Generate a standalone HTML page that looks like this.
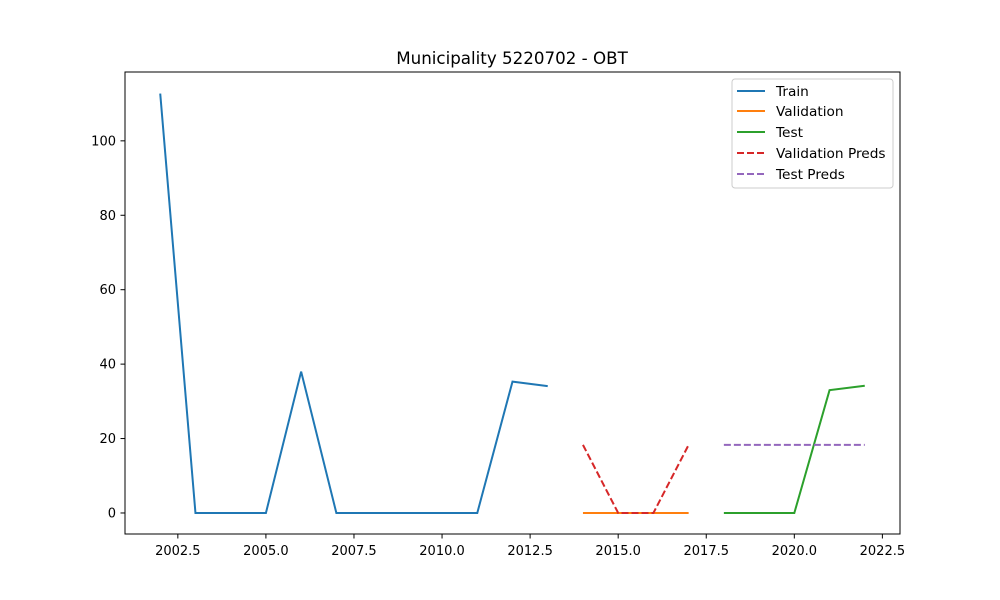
<!DOCTYPE html>
<html><head><meta charset="utf-8">
<style>body{margin:0;background:#fff}svg{display:block;font-family:"DejaVu Sans","Liberation Sans",sans-serif}</style>
</head><body>
<svg id="chart" width="1000" height="600" xmlns="http://www.w3.org/2000/svg">
<rect width="1000" height="600" fill="#fff"/>
<text x="512" y="64" text-anchor="middle" font-size="16.7">Municipality 5220702 - OBT</text>
<g id="marks"></g>
<rect x="125" y="72" width="775" height="462" fill="none" stroke="#000" stroke-width="1"/>
<g id="ticks"></g>
<g>
<rect x="732" y="79" width="161" height="109" fill="#fff" stroke="#ccc" rx="3"/>
<line x1="737" y1="91" x2="765" y2="91" stroke="#1f77b4" stroke-width="2"/><text x="776" y="96" font-size="13.7">Train</text>
<line x1="737" y1="111" x2="765" y2="111" stroke="#ff7f0e" stroke-width="2"/><text x="776" y="116" font-size="13.7">Validation</text>
<line x1="737" y1="132" x2="765" y2="132" stroke="#2ca02c" stroke-width="2"/><text x="776" y="137" font-size="13.7">Test</text>
<line x1="737" y1="153" x2="765" y2="153" stroke="#d62728" stroke-width="2" stroke-dasharray="7,3"/><text x="776" y="158" font-size="13.7">Validation Preds</text>
<line x1="737" y1="174" x2="765" y2="174" stroke="#9467bd" stroke-width="2" stroke-dasharray="7,3"/><text x="776" y="179" font-size="13.7">Test Preds</text>
</g>
</svg>
<script>
const trainYears=[2002,2003,2004,2005,2006,2007,2008,2009,2010,2011,2012,2013];
const trainVals=[112.7,0,0,0,38,0,0,0,0,0,35.3,34.1];
const valYears=[2014,2015,2016,2017];
const valVals=[0,0,0,0];
const valPreds=[18.3,0,0,18.3];
const testYears=[2018,2019,2020,2021,2022];
const testVals=[0,0,0,33,34.2];
const testPreds=[18.3,18.3,18.3,18.3,18.3];
const xTicks=[2002.5,2005.0,2007.5,2010.0,2012.5,2015.0,2017.5,2020.0,2022.5];
const yTicks=[0,20,40,60,80,100];
const X0=125,X1=900,Y0=534,Y1=72,xmin=2001,xmax=2023,ymin=-5.65,ymax=118.5;
const sx=v=>X0+(v-xmin)/(xmax-xmin)*(X1-X0);
const sy=v=>Y0-(v-ymin)/(ymax-ymin)*(Y0-Y1);
const NS="http://www.w3.org/2000/svg";
const marks=document.getElementById('marks'),ticks=document.getElementById('ticks');
function line(xs,ys,color,dash,name){
  const p=document.createElementNS(NS,'polyline');
  p.setAttribute('points',xs.map((x,i)=>sx(x)+','+sy(ys[i])).join(' '));
  p.setAttribute('fill','none');p.setAttribute('stroke',color);p.setAttribute('stroke-width','2');
  if(dash)p.setAttribute('stroke-dasharray','7,3');
  
  
  marks.appendChild(p);
}
line(trainYears,trainVals,'#1f77b4',false,'train-line');
line(valYears,valVals,'#ff7f0e',false,'validation-line');
line(testYears,testVals,'#2ca02c',false,'test-line');
line(valYears,valPreds,'#d62728',true,'validation-preds-line');
line(testYears,testPreds,'#9467bd',true,'test-preds-line');
xTicks.forEach(t=>{
  const x=sx(t);
  const l=document.createElementNS(NS,'line');
  l.setAttribute('x1',x);l.setAttribute('x2',x);l.setAttribute('y1',534);l.setAttribute('y2',538.5);l.setAttribute('stroke','#000');
  
  
  ticks.appendChild(l);
  const tx=document.createElementNS(NS,'text');
  tx.setAttribute('x',x);tx.setAttribute('y',555);tx.setAttribute('text-anchor','middle');tx.setAttribute('font-size','13');
  tx.textContent=t.toFixed(1);
  
  
  ticks.appendChild(tx);
});
yTicks.forEach(t=>{
  const y=sy(t);
  const l=document.createElementNS(NS,'line');
  l.setAttribute('x1',120.5);l.setAttribute('x2',125);l.setAttribute('y1',y);l.setAttribute('y2',y);l.setAttribute('stroke','#000');
  
  
  ticks.appendChild(l);
  const tx=document.createElementNS(NS,'text');
  tx.setAttribute('x',116);tx.setAttribute('y',y+4.5);tx.setAttribute('text-anchor','end');tx.setAttribute('font-size','13');
  tx.textContent=t;
  
  
  ticks.appendChild(tx);
});
</script>
</body></html>
